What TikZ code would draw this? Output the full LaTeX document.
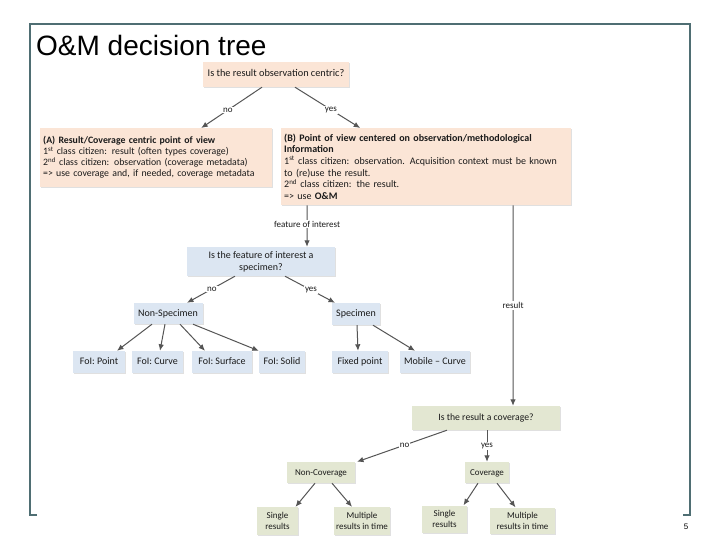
\documentclass[tikz,border=0pt]{standalone}
\usepackage{fontspec}
\setmainfont{Carlito}
\newfontfamily\arialfont{Liberation Sans}
\usetikzlibrary{arrows.meta,shadows,calc}
\definecolor{peachbox}{HTML}{FBE5D6}
\definecolor{bluebox}{HTML}{DCE6F2}
\definecolor{greenbox}{HTML}{E3E7D2}
\definecolor{framecol}{HTML}{4F6E73}
\definecolor{linecol}{HTML}{555555}
\definecolor{txtcol}{HTML}{1A1A1A}
\tikzset{
  box/.style={inner sep=2pt, text=txtcol, font=\fontsize{10}{11.5}\selectfont, align=center,
    drop shadow={shadow xshift=1pt, shadow yshift=-1pt, fill=black, opacity=0.12}},
  pbox/.style={box, fill=peachbox},
  bbox/.style={box, fill=bluebox},
  gbox/.style={box, fill=greenbox, font=\fontsize{9}{11}\selectfont},
  oneline/.style={text height=7pt, text depth=2pt},
  conn/.style={draw=linecol, line width=1pt, -{Latex[length=6.5pt,width=5.5pt]}},
  lbl/.style={fill=white, inner sep=1pt, text=txtcol, font=\fontsize{9}{10}\selectfont}
}
\begin{document}
\begin{tikzpicture}[x=1pt,y=-1pt]
\useasboundingbox (0,0) rectangle (720,540);
\fill[white] (0,0) rectangle (720,540);
% slide frame
\draw[framecol, line width=2.4pt] (37,515) -- (30,515) -- (30,24) -- (690,24) -- (690,515) -- (683,515);
\node[anchor=base west, inner sep=0pt, font=\arialfont\fontsize{28}{30}\selectfont] (title) at (36,56) {O\&M decision tree};
\node[anchor=base, inner sep=0pt, font=\arialfont\fontsize{8}{9}\selectfont] (pnum) at (686,529) {5};

% top question
\node[pbox, oneline, minimum width=146pt, minimum height=25pt, font=\fontsize{10.3}{12}\selectfont] (q1) at (276,74.5) {Is the result observation centric?};
\node[pbox, minimum width=232pt, minimum height=59pt, text width=226pt, align=left, anchor=north west, font=\fontsize{9.8}{11}\selectfont] (a) at (40,128)
  {\textbf{(A) Result/Coverage centric point of view}\\
   1\textsuperscript{st} class citizen: result (often types coverage)\\
   2\textsuperscript{nd} class citizen: observation (coverage metadata)\\
   => use coverage and, if needed, coverage metadata};
\node[pbox, minimum width=290pt, minimum height=77pt, text width=284pt, align=left, anchor=north west, font=\fontsize{10}{11.6}\selectfont] (b) at (281,128)
  {\makebox[284pt][s]{\textbf{(B) Point of view centered on observation/methodological}}\\
   \textbf{Information}\\
   \makebox[284pt][s]{1\textsuperscript{st} class citizen: observation. Acquisition context must be known}\\
   to (re)use the result.\\
   2\textsuperscript{nd} class citizen: the result.\\
   => use \textbf{O\&M}};

% specimen question
\node[bbox, minimum width=148pt, minimum height=29pt, font=\fontsize{10}{12}\selectfont] (q2) at (261,261.5) {Is the feature of interest a\\specimen?};
\node[bbox, oneline, minimum width=69pt, minimum height=21pt] (nspec) at (168,313.5) {Non-Specimen};
\node[bbox, oneline, minimum width=48pt, minimum height=22pt] (spec) at (356,314) {Specimen};
\node[bbox, oneline, minimum width=52pt, minimum height=22pt] (fpoint) at (99,362) {FoI: Point};
\node[bbox, oneline, minimum width=51pt, minimum height=22pt] (fcurve) at (157.5,362) {FoI: Curve};
\node[bbox, oneline, minimum width=60pt, minimum height=22pt] (fsurf) at (222,362) {FoI: Surface};
\node[bbox, oneline, minimum width=46pt, minimum height=22pt] (fsolid) at (282,362) {FoI: Solid};
\node[bbox, oneline, minimum width=56pt, minimum height=22pt] (fixed) at (360,362) {Fixed point};
\node[bbox, oneline, minimum width=70pt, minimum height=22pt] (mobile) at (435,362) {Mobile -- Curve};

% coverage question
\node[gbox, oneline, minimum width=148pt, minimum height=24pt, font=\fontsize{9.7}{11}\selectfont] (q3) at (486,418) {Is the result a coverage?};
\node[gbox, oneline, minimum width=68pt, minimum height=21pt] (ncov) at (321,472.5) {Non-Coverage};
\node[gbox, oneline, minimum width=44pt, minimum height=21pt] (cov) at (487,472.5) {Coverage};
\node[gbox, minimum width=41pt, minimum height=28pt] (sl) at (277.5,521) {Single\\results};
\node[gbox, minimum width=56pt, minimum height=28pt] (ml) at (362,521) {Multiple\\results in time};
\node[gbox, minimum width=45pt, minimum height=27pt] (sr) at (444.5,519) {Single\\results};
\node[gbox, minimum width=65pt, minimum height=26pt] (mr) at (522.5,520.5) {Multiple\\results in time};

% connectors
\draw[conn] ([xshift=-14pt]q1.south) -- node[lbl, pos=0.56] {no} ([xshift=45pt]a.north);
\draw[conn] ([xshift=19pt]q1.south) -- node[lbl, pos=0.55] {yes} ([xshift=-66pt]b.north);
\draw[conn] ([xshift=-119pt]b.south) -- node[lbl, pos=0.45] {feature of interest} ([xshift=46pt]q2.north);
\draw[conn] ([xshift=-26pt]q2.south) -- node[lbl, pos=0.48] {no} ([xshift=19pt]nspec.north);
\draw[conn] ([xshift=24pt]q2.south) -- node[lbl, pos=0.52] {yes} ([xshift=-21pt]spec.north);
\draw[conn] ([xshift=87pt]b.south) -- node[lbl, pos=0.5] {result} ([xshift=27pt]q3.north);
\draw[conn] ([xshift=-16pt]nspec.south) -- ([xshift=18pt]fpoint.north);
\draw[conn] ([xshift=-3pt]nspec.south) -- ([xshift=2.5pt]fcurve.north);
\draw[conn] ([xshift=12pt]nspec.south) -- ([xshift=-17pt]fsurf.north);
\draw[conn] ([xshift=25pt]nspec.south) -- (fsolid.north west);
\draw[conn] ([xshift=1pt]spec.south) -- ([xshift=-2pt]fixed.north);
\draw[conn] ([xshift=17pt]spec.south) -- ([xshift=-20pt]mobile.north);
\draw[conn] ([xshift=-39pt]q3.south) -- node[lbl, pos=0.47] {no} ([xshift=36pt]ncov.north);
\draw[conn] ([xshift=1pt]q3.south) -- node[lbl, pos=0.5] {yes} (cov.north);
\draw[conn] ([xshift=-6pt]ncov.south) -- ([xshift=18pt]sl.north);
\draw[conn] ([xshift=11pt]ncov.south) -- ([xshift=-10pt]ml.north);
\draw[conn] ([xshift=-9pt]cov.south) -- ([xshift=19pt]sr.north);
\draw[conn] ([xshift=10pt]cov.south) -- ([xshift=-7pt]mr.north);
\end{tikzpicture}
\end{document}
